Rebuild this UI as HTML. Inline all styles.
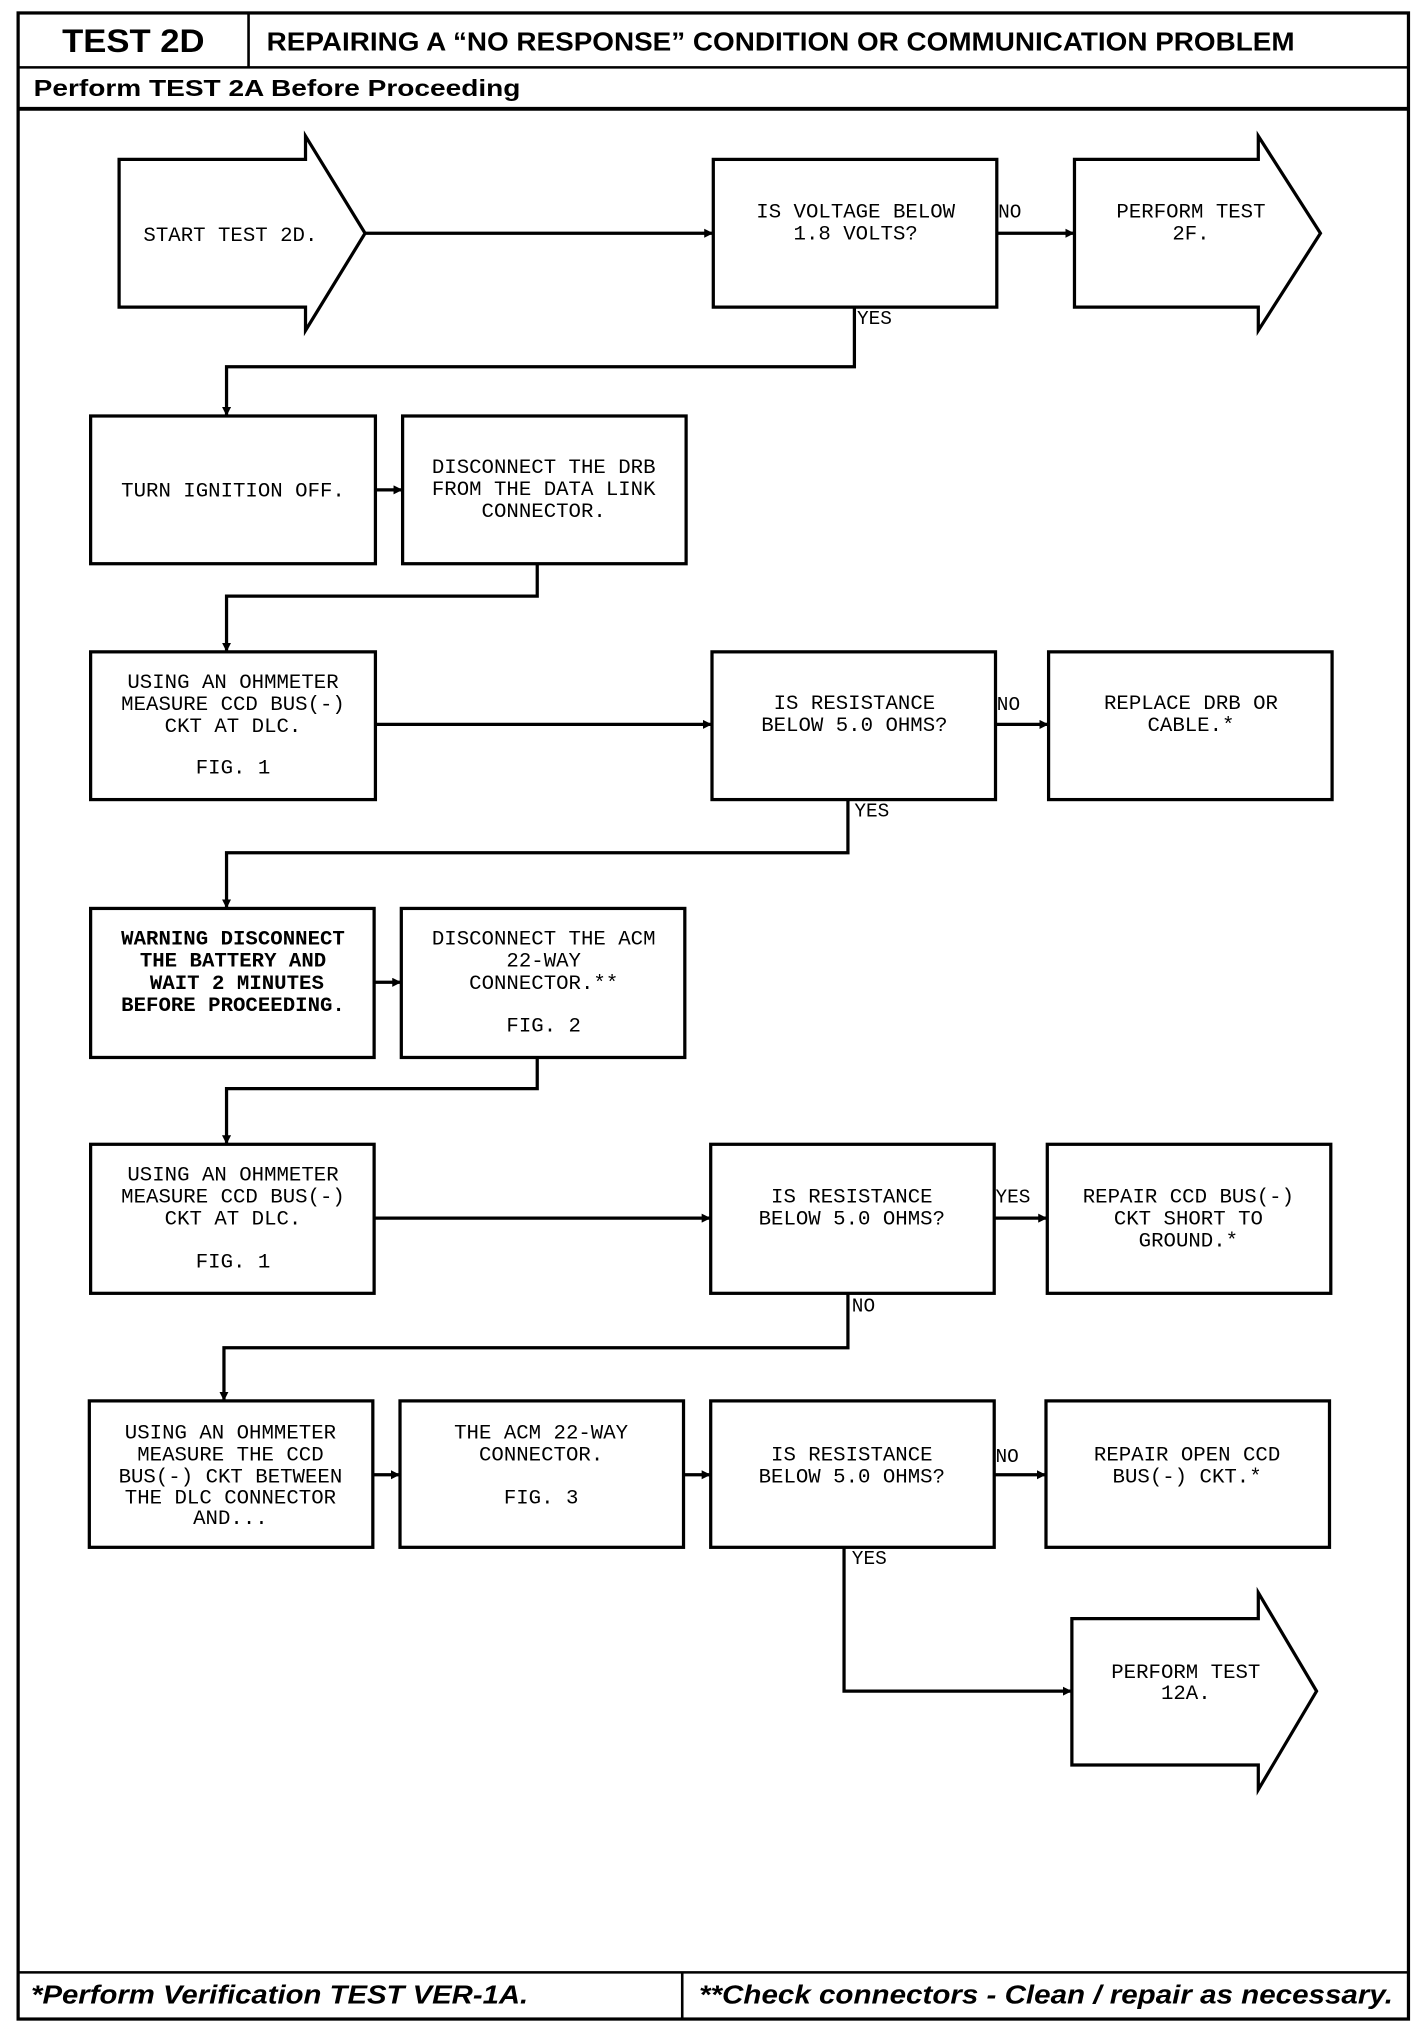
<!DOCTYPE html>
<html><head><meta charset="utf-8"><style>
html,body{margin:0;padding:0;background:#fff}
svg{display:block}
.t{font-family:"Liberation Mono",monospace;font-size:16px;text-anchor:middle;fill:#000}
.b{font-weight:bold}
.l{font-family:"Liberation Mono",monospace;font-size:15px;fill:#000}
</style></head><body>
<svg width="1424" height="2032" viewBox="0 0 1100 1568" preserveAspectRatio="none" xmlns="http://www.w3.org/2000/svg">
<defs><marker id="a" viewBox="0 0 10 10" refX="10" refY="5" markerWidth="7" markerHeight="7" orient="auto" markerUnits="userSpaceOnUse"><path d="M0,0 L10,5 L0,10 z" fill="#000"/></marker></defs>
<g fill="none" stroke="#000">
<rect x="14" y="10" width="1074" height="1548" stroke-width="2.5"/>
<line x1="14" y1="52" x2="1088" y2="52" stroke-width="2"/>
<line x1="192" y1="10" x2="192" y2="52" stroke-width="2"/>
<line x1="14" y1="84" x2="1088" y2="84" stroke-width="3"/>
<line x1="14" y1="1522" x2="1088" y2="1522" stroke-width="2"/>
<line x1="527" y1="1522" x2="527" y2="1558" stroke-width="2"/>
</g>
<text x="103" y="40" font-family="Liberation Sans,sans-serif" font-weight="bold" font-size="25" text-anchor="middle" textLength="110" lengthAdjust="spacingAndGlyphs">TEST 2D</text>
<text x="206" y="39" font-family="Liberation Sans,sans-serif" font-weight="bold" font-size="20" textLength="794" lengthAdjust="spacingAndGlyphs">REPAIRING A “NO RESPONSE” CONDITION OR COMMUNICATION PROBLEM</text>
<text x="26" y="74" font-family="Liberation Sans,sans-serif" font-weight="bold" font-size="18" textLength="376" lengthAdjust="spacingAndGlyphs">Perform TEST 2A Before Proceeding</text>
<text x="24" y="1546" font-family="Liberation Sans,sans-serif" font-weight="bold" font-style="italic" font-size="20" textLength="384" lengthAdjust="spacingAndGlyphs">*Perform Verification TEST VER-1A.</text>
<text x="540" y="1546" font-family="Liberation Sans,sans-serif" font-weight="bold" font-style="italic" font-size="20" textLength="536" lengthAdjust="spacingAndGlyphs">**Check connectors - Clean / repair as necessary.</text>

<g fill="#fff" stroke="#000" stroke-width="2.5">
<polygon points="92,123 236,123 236,105 282,180 236,255 236,237 92,237"/>
<polygon points="830,123 972,123 972,105 1020,180 972,255 972,237 830,237"/>
<polygon points="828,1249 972,1249 972,1229 1017,1305 972,1381 972,1362 828,1362"/>
<rect x="551" y="123" width="219" height="114"/>
<rect x="70" y="321" width="220" height="114"/>
<rect x="311" y="321" width="219" height="114"/>
<rect x="70" y="503" width="220" height="114"/>
<rect x="550" y="503" width="219" height="114"/>
<rect x="810" y="503" width="219" height="114"/>
<rect x="70" y="701" width="219" height="115"/>
<rect x="310" y="701" width="219" height="115"/>
<rect x="70" y="883" width="219" height="115"/>
<rect x="549" y="883" width="219" height="115"/>
<rect x="809" y="883" width="219" height="115"/>
<rect x="69" y="1081" width="219" height="113"/>
<rect x="309" y="1081" width="219" height="113"/>
<rect x="549" y="1081" width="219" height="113"/>
<rect x="808" y="1081" width="219" height="113"/>
</g>
<g fill="none" stroke="#000" stroke-width="2.5">
<line x1="282" y1="180" x2="551" y2="180" marker-end="url(#a)"/>
<line x1="770" y1="180" x2="830" y2="180" marker-end="url(#a)"/>
<polyline points="660,237 660,283 175,283 175,321" marker-end="url(#a)"/>
<line x1="290" y1="378" x2="311" y2="378" marker-end="url(#a)"/>
<polyline points="415,435 415,460 175,460 175,503" marker-end="url(#a)"/>
<line x1="290" y1="559" x2="550" y2="559" marker-end="url(#a)"/>
<line x1="769" y1="559" x2="810" y2="559" marker-end="url(#a)"/>
<polyline points="655,617 655,658 175,658 175,701" marker-end="url(#a)"/>
<line x1="289" y1="758" x2="310" y2="758" marker-end="url(#a)"/>
<polyline points="415,816 415,840 175,840 175,883" marker-end="url(#a)"/>
<line x1="289" y1="940" x2="549" y2="940" marker-end="url(#a)"/>
<line x1="768" y1="940" x2="809" y2="940" marker-end="url(#a)"/>
<polyline points="655,998 655,1040 173,1040 173,1081" marker-end="url(#a)"/>
<line x1="288" y1="1138" x2="309" y2="1138" marker-end="url(#a)"/>
<line x1="528" y1="1138" x2="549" y2="1138" marker-end="url(#a)"/>
<line x1="768" y1="1138" x2="808" y2="1138" marker-end="url(#a)"/>
<polyline points="652,1194 652,1305 828,1305" marker-end="url(#a)"/>
</g>

<text class="t" x="178" y="186">START TEST 2D.</text>
<text class="t" x="661" y="168">IS VOLTAGE BELOW</text><text class="t" x="661" y="185">1.8 VOLTS?</text>
<text class="t" x="920" y="168">PERFORM TEST</text><text class="t" x="920" y="185">2F.</text>
<text class="l" x="771" y="168">NO</text><text class="l" x="662" y="250">YES</text>
<text class="t" x="180" y="383">TURN IGNITION OFF.</text>
<text class="t" x="420" y="365">DISCONNECT THE DRB</text><text class="t" x="420" y="382">FROM THE DATA LINK</text><text class="t" x="420" y="399">CONNECTOR.</text>
<text class="t" x="180" y="531">USING AN OHMMETER</text><text class="t" x="180" y="548">MEASURE CCD BUS(-)</text><text class="t" x="180" y="565">CKT AT DLC.</text><text class="t" x="180" y="597">FIG. 1</text>
<text class="t" x="660" y="547">IS RESISTANCE</text><text class="t" x="660" y="564">BELOW 5.0 OHMS?</text>
<text class="l" x="770" y="548">NO</text><text class="l" x="660" y="630">YES</text>
<text class="t" x="920" y="547">REPLACE DRB OR</text><text class="t" x="920" y="564">CABLE.*</text>
<text class="t b" x="180" y="729">WARNING DISCONNECT</text><text class="t b" x="180" y="746">THE BATTERY AND</text><text class="t b" x="183" y="763">WAIT 2 MINUTES</text><text class="t b" x="180" y="780">BEFORE PROCEEDING.</text>
<text class="t" x="420" y="729">DISCONNECT THE ACM</text><text class="t" x="420" y="746">22-WAY</text><text class="t" x="420" y="763">CONNECTOR.**</text><text class="t" x="420" y="796">FIG. 2</text>
<text class="t" x="180" y="911">USING AN OHMMETER</text><text class="t" x="180" y="928">MEASURE CCD BUS(-)</text><text class="t" x="180" y="945">CKT AT DLC.</text><text class="t" x="180" y="978">FIG. 1</text>
<text class="t" x="658" y="928">IS RESISTANCE</text><text class="t" x="658" y="945">BELOW 5.0 OHMS?</text>
<text class="l" x="769" y="928">YES</text><text class="l" x="658" y="1012">NO</text>
<text class="t" x="918" y="928">REPAIR CCD BUS(-)</text><text class="t" x="918" y="945">CKT SHORT TO</text><text class="t" x="918" y="962">GROUND.*</text>
<text class="t" x="178" y="1110">USING AN OHMMETER</text><text class="t" x="178" y="1127">MEASURE THE CCD</text><text class="t" x="178" y="1144">BUS(-) CKT BETWEEN</text><text class="t" x="178" y="1160">THE DLC CONNECTOR</text><text class="t" x="178" y="1176">AND...</text>
<text class="t" x="418" y="1110">THE ACM 22-WAY</text><text class="t" x="418" y="1127">CONNECTOR.</text><text class="t" x="418" y="1160">FIG. 3</text>
<text class="t" x="658" y="1127">IS RESISTANCE</text><text class="t" x="658" y="1144">BELOW 5.0 OHMS?</text>
<text class="l" x="769" y="1128">NO</text><text class="l" x="658" y="1207">YES</text>
<text class="t" x="917" y="1127">REPAIR OPEN CCD</text><text class="t" x="917" y="1144">BUS(-) CKT.*</text>
<text class="t" x="916" y="1295">PERFORM TEST</text><text class="t" x="916" y="1311">12A.</text>
</svg>
</body></html>
